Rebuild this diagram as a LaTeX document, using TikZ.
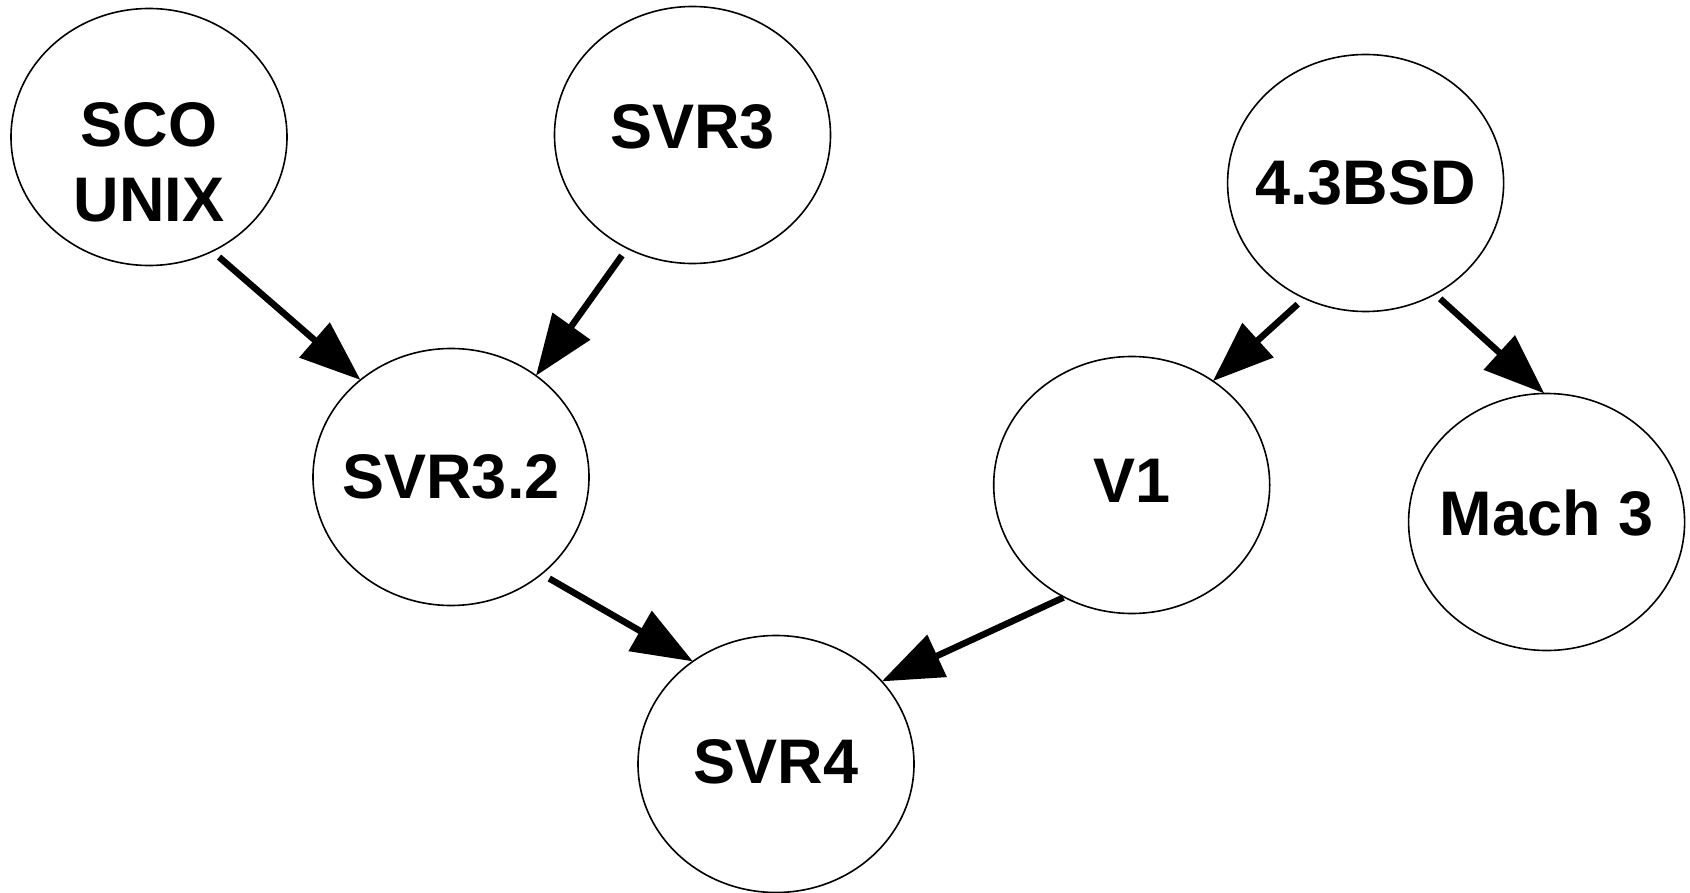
\documentclass[tikz,border=0pt]{standalone}
\usepackage{fontspec}
\setmainfont{Liberation Sans}
\usetikzlibrary{shapes.geometric,arrows.meta}
\tikzset{
  ell/.style={draw=black, line width=1.6pt, ellipse, inner sep=0pt, outer sep=0pt,
              minimum width=276pt, minimum height=257pt},
  lbl/.style={inner sep=0pt, align=center,
              font=\fontsize{63}{75}\selectfont\bfseries},
  edge/.style={draw=black, line width=6.5pt,
               -{Triangle[length=61pt,width=45pt]}, shorten <=9pt},
}
\begin{document}
\begin{tikzpicture}[x=1pt,y=-1pt]
\useasboundingbox (0,0) rectangle (1690,893);
\node[ell] (sco)   at (149,137)    {};
\node[ell] (svr3)  at (692.5,135)  {};
\node[ell] (bsd)   at (1365.6,183) {};
\node[ell] (svr32) at (451,477)    {};
\node[ell] (v1)    at (1131.7,485) {};
\node[ell] (mach)  at (1546.6,522) {};
\node[ell] (svr4)  at (776,764)    {};

\node[lbl] (scot)   at ([yshift=-25pt]sco.center)  {SCO\\UNIX};
\node[lbl] (svr3t)  at ([yshift=8pt]svr3.center)   {SVR3};
\node[lbl] (bsdt)   at (bsd.center)                {4.3BSD};
\node[lbl] (svr32t) at (svr32.center)              {SVR3.2};
\node[lbl] (v1t)    at ([yshift=4pt]v1.center)     {V1};
\node[lbl] (macht)  at ([yshift=9pt]mach.center)   {Mach 3};
\node[lbl] (svr4t)  at ([yshift=2pt]svr4.center)   {SVR4};

\draw[edge] (sco.-61.2)   -- (svr32.133.2);
\draw[edge] (svr3.-120.5) -- (svr32.50.6);
\draw[edge] (svr32.-47.8) -- (svr4.129.3);
\draw[edge, shorten <=1pt] (v1.-121)   -- (svr4.38.1);
\draw[edge] (bsd.-118.9)  -- (v1.52.9);
\draw[edge, shorten <=7pt] (bsd.-58.5)   -- (mach.91.6);
\end{tikzpicture}
\end{document}
